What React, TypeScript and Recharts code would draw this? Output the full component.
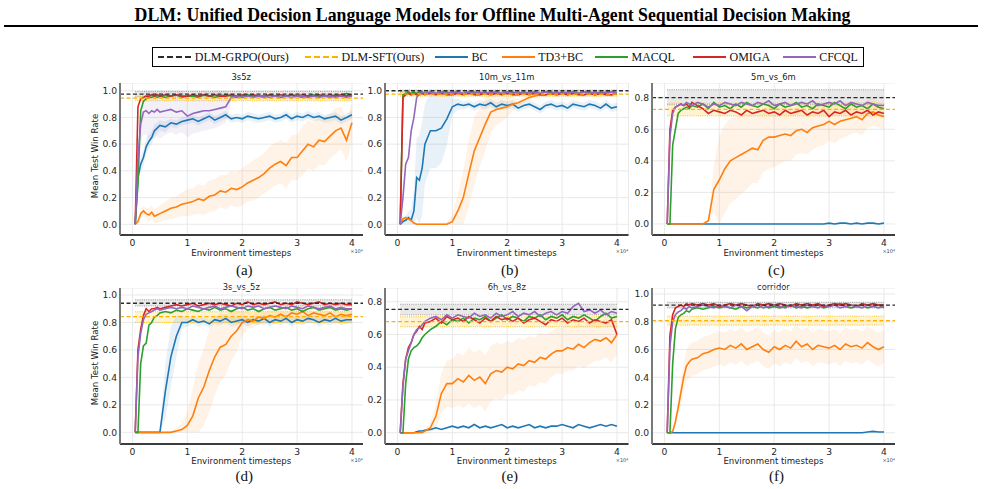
import React from "react";
import {
  Area,
  CartesianGrid,
  ComposedChart,
  Line,
  ReferenceArea,
  ReferenceLine,
  XAxis,
  YAxis
} from "recharts";

// shared x grid (×10^4 environment timesteps)
const steps = [
  0.05, 0.1, 0.15, 0.2, 0.25, 0.3, 0.35, 0.4, 0.45, 0.5,
  0.6, 0.7, 0.8, 0.9, 1.0, 1.1, 1.2, 1.3, 1.4, 1.5,
  1.6, 1.7, 1.8, 1.9, 2.0, 2.1, 2.2, 2.3, 2.4, 2.5,
  2.6, 2.7, 2.8, 2.9, 3.0, 3.1, 3.2, 3.3, 3.4, 3.5,
  3.6, 3.7, 3.8, 3.9, 4.0
];
const xTicks = [0, 1, 2, 3, 4];
const yTicksFull = [0, 0.2, 0.4, 0.6, 0.8, 1.0];
const yTicksShort = [0, 0.2, 0.4, 0.6, 0.8];

// ---- 3s5z ----
const bcA = [0, 0.35, 0.45, 0.5, 0.58, 0.62, 0.65, 0.7, 0.72, 0.74, 0.73, 0.76, 0.75, 0.77, 0.78, 0.79, 0.77, 0.79, 0.81, 0.78, 0.8, 0.82, 0.79, 0.8, 0.79, 0.81, 0.8, 0.79, 0.8, 0.81, 0.79, 0.8, 0.82, 0.79, 0.81, 0.8, 0.82, 0.8, 0.81, 0.79, 0.8, 0.81, 0.78, 0.8, 0.82];
const bcSpreadA = [0, 0.05, 0.06, 0.06, 0.06, 0.05, 0.05, 0.05, 0.04, 0.04, 0.04, 0.03, 0.03, 0.03, 0.03, 0.03, 0.03, 0.03, 0.03, 0.03, 0.03, 0.03, 0.03, 0.03, 0.03, 0.03, 0.03, 0.03, 0.03, 0.03, 0.03, 0.03, 0.03, 0.03, 0.03, 0.03, 0.03, 0.03, 0.03, 0.03, 0.03, 0.03, 0.03, 0.03, 0.03];
const td3A = [0, 0.02, 0.08, 0.1, 0.08, 0.07, 0.09, 0.06, 0.07, 0.08, 0.1, 0.12, 0.13, 0.15, 0.16, 0.17, 0.19, 0.18, 0.21, 0.22, 0.25, 0.24, 0.27, 0.26, 0.28, 0.31, 0.33, 0.35, 0.38, 0.42, 0.45, 0.47, 0.44, 0.5, 0.5, 0.55, 0.6, 0.58, 0.63, 0.62, 0.66, 0.7, 0.72, 0.63, 0.76];
const td3SpreadA = [0, 0.02, 0.03, 0.04, 0.04, 0.05, 0.05, 0.05, 0.06, 0.06, 0.07, 0.08, 0.08, 0.09, 0.1, 0.1, 0.11, 0.11, 0.12, 0.12, 0.12, 0.13, 0.13, 0.13, 0.14, 0.14, 0.15, 0.15, 0.15, 0.16, 0.16, 0.16, 0.17, 0.17, 0.17, 0.18, 0.18, 0.18, 0.18, 0.18, 0.17, 0.17, 0.16, 0.16, 0.15];
const macqlA = [0, 0.3, 0.85, 0.92, 0.94, 0.95, 0.95, 0.96, 0.95, 0.96, 0.95, 0.96, 0.97, 0.95, 0.96, 0.96, 0.95, 0.97, 0.96, 0.95, 0.96, 0.97, 0.96, 0.95, 0.96, 0.97, 0.96, 0.96, 0.95, 0.97, 0.96, 0.95, 0.96, 0.97, 0.96, 0.95, 0.96, 0.97, 0.96, 0.96, 0.95, 0.97, 0.96, 0.98, 0.96];
const omigaA = [0, 0.88, 0.94, 0.95, 0.96, 0.96, 0.97, 0.96, 0.97, 0.96, 0.97, 0.96, 0.97, 0.96, 0.96, 0.97, 0.96, 0.97, 0.96, 0.97, 0.96, 0.96, 0.97, 0.96, 0.97, 0.96, 0.97, 0.96, 0.96, 0.97, 0.96, 0.97, 0.96, 0.97, 0.96, 0.97, 0.96, 0.96, 0.97, 0.96, 0.97, 0.96, 0.97, 0.96, 0.97];
const cfcqlA = [0, 0.5, 0.75, 0.84, 0.85, 0.83, 0.85, 0.84, 0.86, 0.84, 0.85, 0.86, 0.84, 0.85, 0.81, 0.83, 0.84, 0.85, 0.85, 0.86, 0.87, 0.88, 0.95, 0.96, 0.95, 0.96, 0.95, 0.96, 0.96, 0.95, 0.96, 0.95, 0.96, 0.95, 0.96, 0.96, 0.95, 0.96, 0.95, 0.96, 0.96, 0.95, 0.96, 0.95, 0.96];
const cfcqlSpreadA = [0, 0.1, 0.15, 0.17, 0.18, 0.2, 0.2, 0.2, 0.2, 0.2, 0.18, 0.17, 0.17, 0.16, 0.16, 0.15, 0.15, 0.15, 0.14, 0.14, 0.13, 0.12, 0.03, 0.02, 0.02, 0.02, 0.02, 0.02, 0.02, 0.02, 0.02, 0.02, 0.02, 0.02, 0.02, 0.02, 0.02, 0.02, 0.02, 0.02, 0.02, 0.02, 0.02, 0.02, 0.02];

// ---- 10m_vs_11m ----
const bcB = [0, 0.02, 0.03, 0.05, 0.03, 0.1, 0.35, 0.33, 0.42, 0.6, 0.7, 0.7, 0.72, 0.79, 0.88, 0.9, 0.89, 0.9, 0.88, 0.9, 0.89, 0.91, 0.88, 0.9, 0.89, 0.9, 0.87, 0.89, 0.9, 0.88, 0.86, 0.89, 0.9, 0.88, 0.89, 0.87, 0.9, 0.89, 0.88, 0.9, 0.89, 0.87, 0.9, 0.87, 0.88];
const bcSpreadB = [0, 0.02, 0.03, 0.05, 0.08, 0.15, 0.3, 0.33, 0.35, 0.3, 0.28, 0.28, 0.26, 0.2, 0.06, 0.04, 0.03, 0.03, 0.03, 0.03, 0.03, 0.03, 0.03, 0.03, 0.03, 0.03, 0.03, 0.03, 0.03, 0.03, 0.03, 0.03, 0.03, 0.03, 0.03, 0.03, 0.03, 0.03, 0.03, 0.03, 0.03, 0.03, 0.03, 0.03, 0.03];
const td3B = [0, 0.04, 0.05, 0.04, 0.03, 0.01, 0, 0, 0, 0, 0, 0, 0, 0, 0.02, 0.1, 0.2, 0.38, 0.55, 0.65, 0.75, 0.84, 0.86, 0.87, 0.88, 0.9, 0.91, 0.93, 0.95, 0.96, 0.97, 0.97, 0.98, 0.97, 0.98, 0.97, 0.98, 0.98, 0.97, 0.98, 0.97, 0.98, 0.98, 0.97, 0.98];
const td3SpreadB = [0, 0.02, 0.02, 0.02, 0.02, 0.01, 0.01, 0.01, 0.01, 0.01, 0.01, 0.01, 0.01, 0.02, 0.05, 0.12, 0.2, 0.25, 0.25, 0.22, 0.2, 0.15, 0.12, 0.1, 0.08, 0.05, 0.03, 0.02, 0.02, 0.02, 0.02, 0.02, 0.02, 0.02, 0.02, 0.02, 0.02, 0.02, 0.02, 0.02, 0.02, 0.02, 0.02, 0.02, 0.02];
const macqlB = [0, 0.97, 0.98, 0.99, 0.98, 0.99, 0.98, 0.99, 0.99, 0.98, 0.99, 0.98, 0.99, 0.99, 0.98, 0.99, 0.98, 0.99, 0.99, 0.98, 0.99, 0.98, 0.99, 0.98, 0.99, 0.99, 0.98, 0.99, 0.98, 0.99, 0.98, 0.99, 0.99, 0.98, 0.99, 0.98, 0.99, 0.98, 0.99, 0.99, 0.98, 0.99, 0.98, 0.99, 0.98];
const omigaB = [0, 0.95, 0.97, 0.98, 0.97, 0.98, 0.97, 0.97, 0.98, 0.97, 0.98, 0.97, 0.98, 0.97, 0.97, 0.98, 0.97, 0.98, 0.97, 0.97, 0.98, 0.97, 0.98, 0.97, 0.98, 0.97, 0.97, 0.98, 0.97, 0.98, 0.97, 0.97, 0.98, 0.97, 0.98, 0.97, 0.98, 0.97, 0.97, 0.98, 0.97, 0.98, 0.97, 0.97, 0.98];
const cfcqlB = [0, 0.2, 0.45, 0.5, 0.7, 0.8, 0.95, 0.98, 0.99, 0.98, 0.99, 0.98, 0.99, 0.98, 0.99, 0.99, 0.98, 0.99, 0.98, 0.99, 0.98, 0.99, 0.99, 0.98, 0.99, 0.98, 0.99, 0.98, 0.99, 0.99, 0.98, 0.99, 0.98, 0.99, 0.98, 0.99, 0.99, 0.98, 0.99, 0.98, 0.99, 0.98, 0.99, 0.99, 0.98];

// ---- 5m_vs_6m ----
const bcC = [0, 0, 0, 0, 0, 0, 0, 0, 0, 0, 0, 0, 0, 0, 0, 0, 0, 0, 0, 0, 0, 0, 0, 0, 0, 0, 0, 0, 0, 0, 0, 0, 0, 0, 0.005, 0, 0.005, 0.005, 0, 0.005, 0, 0.005, 0.005, 0, 0.005];
const td3C = [0, 0, 0, 0, 0, 0, 0, 0, 0, 0, 0, 0, 0.02, 0.22, 0.28, 0.35, 0.4, 0.42, 0.44, 0.46, 0.48, 0.47, 0.53, 0.55, 0.55, 0.56, 0.57, 0.56, 0.59, 0.6, 0.58, 0.61, 0.62, 0.63, 0.65, 0.63, 0.65, 0.66, 0.67, 0.68, 0.66, 0.7, 0.71, 0.69, 0.68];
const td3SpreadC = [0, 0, 0, 0, 0, 0, 0, 0, 0, 0, 0, 0, 0.01, 0.15, 0.28, 0.28, 0.27, 0.26, 0.25, 0.24, 0.22, 0.21, 0.2, 0.2, 0.19, 0.18, 0.17, 0.16, 0.15, 0.15, 0.14, 0.14, 0.13, 0.13, 0.12, 0.12, 0.11, 0.11, 0.1, 0.1, 0.1, 0.09, 0.09, 0.08, 0.08];
const macqlC = [0, 0, 0.5, 0.6, 0.7, 0.72, 0.73, 0.74, 0.73, 0.75, 0.74, 0.76, 0.73, 0.77, 0.74, 0.75, 0.73, 0.76, 0.74, 0.77, 0.75, 0.74, 0.76, 0.75, 0.73, 0.76, 0.74, 0.75, 0.77, 0.74, 0.75, 0.73, 0.76, 0.75, 0.74, 0.77, 0.75, 0.73, 0.76, 0.74, 0.75, 0.73, 0.76, 0.74, 0.73];
const omigaC = [0, 0.6, 0.72, 0.74, 0.75, 0.76, 0.75, 0.76, 0.74, 0.77, 0.75, 0.73, 0.7, 0.72, 0.71, 0.7, 0.72, 0.71, 0.69, 0.72, 0.7, 0.71, 0.72, 0.7, 0.71, 0.69, 0.72, 0.7, 0.71, 0.72, 0.69, 0.71, 0.7, 0.72, 0.68, 0.71, 0.7, 0.72, 0.69, 0.71, 0.7, 0.72, 0.69, 0.71, 0.7];
const cfcqlC = [0, 0.55, 0.7, 0.74, 0.75, 0.76, 0.75, 0.77, 0.76, 0.75, 0.77, 0.76, 0.74, 0.76, 0.75, 0.77, 0.76, 0.75, 0.77, 0.76, 0.75, 0.77, 0.76, 0.78, 0.75, 0.76, 0.77, 0.75, 0.76, 0.77, 0.76, 0.78, 0.75, 0.76, 0.77, 0.76, 0.78, 0.75, 0.77, 0.76, 0.75, 0.77, 0.76, 0.75, 0.75];

// ---- 3s_vs_5z ----
const bcD = [0, 0, 0, 0, 0, 0, 0, 0, 0, 0, 0.3, 0.55, 0.7, 0.8, 0.8, 0.82, 0.8, 0.81, 0.79, 0.82, 0.81, 0.83, 0.8, 0.81, 0.82, 0.8, 0.82, 0.81, 0.83, 0.8, 0.82, 0.81, 0.83, 0.8, 0.82, 0.81, 0.83, 0.82, 0.8, 0.82, 0.81, 0.83, 0.81, 0.82, 0.82];
const bcSpreadD = [0, 0, 0, 0, 0, 0, 0, 0, 0, 0, 0.2, 0.22, 0.15, 0.05, 0.03, 0.03, 0.03, 0.03, 0.03, 0.03, 0.03, 0.03, 0.03, 0.03, 0.03, 0.03, 0.03, 0.03, 0.03, 0.03, 0.03, 0.03, 0.03, 0.03, 0.03, 0.03, 0.03, 0.03, 0.03, 0.03, 0.03, 0.03, 0.03, 0.03, 0.03];
const td3D = [0, 0, 0, 0, 0, 0, 0, 0, 0, 0, 0, 0, 0.01, 0.02, 0.05, 0.12, 0.25, 0.33, 0.45, 0.55, 0.62, 0.64, 0.7, 0.74, 0.8, 0.82, 0.81, 0.84, 0.83, 0.85, 0.84, 0.86, 0.84, 0.87, 0.86, 0.88, 0.85, 0.87, 0.86, 0.85, 0.87, 0.84, 0.86, 0.85, 0.86];
const td3SpreadD = [0, 0, 0, 0, 0, 0, 0, 0, 0, 0, 0.005, 0.01, 0.02, 0.05, 0.1, 0.2, 0.25, 0.28, 0.3, 0.28, 0.25, 0.22, 0.18, 0.15, 0.1, 0.06, 0.05, 0.05, 0.05, 0.05, 0.05, 0.05, 0.05, 0.05, 0.05, 0.05, 0.05, 0.05, 0.05, 0.05, 0.05, 0.05, 0.05, 0.05, 0.05];
const macqlD = [0, 0, 0.5, 0.63, 0.65, 0.78, 0.8, 0.84, 0.85, 0.87, 0.88, 0.87, 0.89, 0.88, 0.9, 0.89, 0.88, 0.9, 0.89, 0.91, 0.89, 0.9, 0.88, 0.9, 0.91, 0.89, 0.9, 0.88, 0.9, 0.91, 0.89, 0.9, 0.91, 0.89, 0.9, 0.88, 0.9, 0.91, 0.89, 0.9, 0.91, 0.89, 0.9, 0.89, 0.9];
const omigaD = [0, 0.6, 0.75, 0.85, 0.9, 0.88, 0.9, 0.9, 0.91, 0.9, 0.91, 0.92, 0.93, 0.92, 0.93, 0.94, 0.92, 0.93, 0.94, 0.93, 0.94, 0.93, 0.92, 0.94, 0.93, 0.95, 0.93, 0.94, 0.93, 0.94, 0.95, 0.93, 0.94, 0.93, 0.95, 0.94, 0.93, 0.94, 0.95, 0.93, 0.94, 0.93, 0.94, 0.93, 0.93];
const cfcqlD = [0, 0.55, 0.72, 0.82, 0.86, 0.87, 0.88, 0.89, 0.9, 0.89, 0.9, 0.91, 0.9, 0.91, 0.9, 0.92, 0.91, 0.9, 0.91, 0.92, 0.9, 0.91, 0.92, 0.91, 0.9, 0.92, 0.91, 0.92, 0.9, 0.91, 0.92, 0.91, 0.9, 0.92, 0.91, 0.9, 0.92, 0.91, 0.9, 0.91, 0.92, 0.9, 0.91, 0.9, 0.9];

// ---- 6h_vs_8z ----
const bcE = [0, 0, 0, 0, 0, 0, 0.005, 0.01, 0.01, 0.015, 0.02, 0.03, 0.02, 0.03, 0.04, 0.03, 0.04, 0.03, 0.05, 0.03, 0.04, 0.03, 0.04, 0.05, 0.03, 0.04, 0.03, 0.04, 0.05, 0.03, 0.04, 0.03, 0.04, 0.04, 0.05, 0.04, 0.03, 0.05, 0.04, 0.03, 0.04, 0.05, 0.04, 0.05, 0.04];
const td3E = [0, 0, 0, 0, 0, 0, 0, 0, 0, 0.01, 0.03, 0.1, 0.24, 0.3, 0.3, 0.33, 0.31, 0.35, 0.32, 0.34, 0.3, 0.36, 0.38, 0.37, 0.4, 0.39, 0.42, 0.41, 0.44, 0.43, 0.46, 0.45, 0.48, 0.5, 0.5, 0.52, 0.51, 0.54, 0.52, 0.55, 0.57, 0.56, 0.58, 0.55, 0.6];
const td3SpreadE = [0, 0, 0, 0, 0, 0, 0, 0, 0, 0.01, 0.03, 0.08, 0.12, 0.14, 0.15, 0.16, 0.16, 0.17, 0.17, 0.17, 0.17, 0.17, 0.17, 0.17, 0.16, 0.16, 0.16, 0.16, 0.15, 0.15, 0.15, 0.15, 0.14, 0.14, 0.14, 0.14, 0.13, 0.13, 0.13, 0.13, 0.13, 0.12, 0.12, 0.12, 0.12];
const macqlE = [0, 0, 0.3, 0.45, 0.5, 0.52, 0.53, 0.55, 0.58, 0.6, 0.63, 0.65, 0.68, 0.66, 0.69, 0.68, 0.7, 0.67, 0.7, 0.69, 0.71, 0.68, 0.7, 0.72, 0.69, 0.71, 0.7, 0.68, 0.71, 0.7, 0.72, 0.69, 0.71, 0.7, 0.72, 0.69, 0.71, 0.7, 0.72, 0.7, 0.68, 0.71, 0.73, 0.7, 0.71];
const omigaE = [0, 0.3, 0.45, 0.52, 0.55, 0.6, 0.62, 0.65, 0.63, 0.67, 0.68, 0.7, 0.67, 0.71, 0.69, 0.7, 0.68, 0.71, 0.69, 0.67, 0.7, 0.68, 0.71, 0.69, 0.7, 0.68, 0.7, 0.67, 0.69, 0.7, 0.68, 0.66, 0.69, 0.68, 0.7, 0.67, 0.69, 0.68, 0.7, 0.67, 0.69, 0.68, 0.67, 0.69, 0.6];
const cfcqlE = [0, 0.28, 0.45, 0.5, 0.55, 0.6, 0.63, 0.64, 0.66, 0.68, 0.7, 0.71, 0.69, 0.72, 0.7, 0.72, 0.71, 0.7, 0.73, 0.71, 0.72, 0.7, 0.73, 0.71, 0.72, 0.74, 0.71, 0.73, 0.72, 0.74, 0.71, 0.73, 0.74, 0.72, 0.74, 0.73, 0.77, 0.79, 0.74, 0.75, 0.73, 0.75, 0.72, 0.74, 0.73];

// ---- corridor ----
const bcF = [0, 0, 0, 0, 0, 0, 0, 0, 0, 0, 0, 0, 0, 0, 0, 0, 0, 0, 0, 0, 0, 0, 0, 0, 0, 0, 0, 0, 0, 0, 0, 0, 0, 0, 0, 0, 0, 0, 0, 0, 0, 0.005, 0.01, 0.005, 0.005];
const td3F = [0, 0, 0.01, 0.08, 0.18, 0.29, 0.4, 0.48, 0.51, 0.53, 0.54, 0.57, 0.58, 0.6, 0.61, 0.6, 0.63, 0.61, 0.64, 0.6, 0.62, 0.64, 0.6, 0.58, 0.62, 0.6, 0.63, 0.61, 0.66, 0.62, 0.64, 0.6, 0.63, 0.62, 0.61, 0.63, 0.6, 0.64, 0.62, 0.63, 0.61, 0.65, 0.62, 0.6, 0.62];
const td3SpreadF = [0, 0, 0.01, 0.04, 0.06, 0.08, 0.1, 0.11, 0.12, 0.12, 0.12, 0.12, 0.12, 0.12, 0.12, 0.12, 0.12, 0.12, 0.12, 0.12, 0.12, 0.12, 0.12, 0.12, 0.12, 0.12, 0.12, 0.12, 0.12, 0.12, 0.12, 0.12, 0.12, 0.12, 0.12, 0.12, 0.12, 0.12, 0.12, 0.12, 0.12, 0.12, 0.12, 0.12, 0.12];
const macqlF = [0, 0, 0.5, 0.75, 0.83, 0.85, 0.86, 0.88, 0.87, 0.89, 0.9, 0.89, 0.9, 0.91, 0.9, 0.91, 0.9, 0.89, 0.91, 0.9, 0.91, 0.9, 0.92, 0.9, 0.91, 0.9, 0.91, 0.92, 0.9, 0.91, 0.9, 0.91, 0.92, 0.9, 0.91, 0.92, 0.93, 0.91, 0.9, 0.91, 0.92, 0.9, 0.91, 0.92, 0.9];
const omigaF = [0, 0.7, 0.85, 0.9, 0.91, 0.92, 0.91, 0.93, 0.92, 0.93, 0.92, 0.93, 0.92, 0.93, 0.91, 0.92, 0.93, 0.92, 0.93, 0.92, 0.91, 0.93, 0.92, 0.93, 0.92, 0.93, 0.92, 0.91, 0.93, 0.92, 0.93, 0.92, 0.93, 0.91, 0.92, 0.93, 0.92, 0.93, 0.92, 0.91, 0.93, 0.92, 0.93, 0.92, 0.92];
const cfcqlF = [0, 0.62, 0.8, 0.85, 0.87, 0.88, 0.9, 0.89, 0.91, 0.9, 0.91, 0.92, 0.91, 0.9, 0.92, 0.91, 0.9, 0.92, 0.91, 0.88, 0.91, 0.92, 0.9, 0.91, 0.92, 0.91, 0.9, 0.92, 0.91, 0.9, 0.92, 0.91, 0.9, 0.92, 0.91, 0.92, 0.9, 0.91, 0.92, 0.91, 0.9, 0.92, 0.91, 0.9, 0.91];

// DLM reference levels per map: [mean, low, high]
const grpoLevels = [
  [0.975, 0.955, 0.995],
  [1.0, 0.99, 1.005],
  [0.8, 0.755, 0.85],
  [0.94, 0.92, 0.965],
  [0.753, 0.72, 0.785],
  [0.92, 0.9, 0.94]
];
const sftLevels = [
  [0.945, 0.925, 0.96],
  [0.975, 0.96, 0.99],
  [0.726, 0.685, 0.765],
  [0.842, 0.8, 0.878],
  [0.678, 0.647, 0.708],
  [0.808, 0.776, 0.84]
];

const C = {
  bc: "#1f77b4",
  td3: "#ff7f0e",
  macql: "#2ca02c",
  omiga: "#d62728",
  cfcql: "#9467bd",
  grpo: "#2b2b2b",
  sft: "#ffb000"
};

const tickFont = { fill: "#262626", fontSize: 9.2, fontFamily: "DejaVu Sans" };
const AXIS_W = 34;
const AXIS_H = 22;
const PLOT_W = 243.5;
const X_DOMAIN: [number, number] = [-0.227, 4.21];
const LW = 1.6;

type Panel = {
  title: string;
  tag: string;
  left: number;
  top: number;
  bottom: number;
  yDomain: [number, number];
  yTicks: number[];
  bc: number[];
  td3: number[];
  macql: number[];
  omiga: number[];
  cfcql: number[];
  td3Spread: number[];
  bcSpread?: number[];
  cfcqlSpread?: number[];
  idx: number;
  yLabel?: boolean;
};

const TOP = { top: 83, bottom: 235 };
const BOT = { top: 288, bottom: 444 };

const panels: Panel[] = [
  { title: "3s5z", tag: "(a)", left: 119.5, ...TOP, yDomain: [-0.08, 1.058], yTicks: yTicksFull, bc: bcA, td3: td3A, macql: macqlA, omiga: omigaA, cfcql: cfcqlA, td3Spread: td3SpreadA, bcSpread: bcSpreadA, cfcqlSpread: cfcqlSpreadA, idx: 0, yLabel: true },
  { title: "10m_vs_11m", tag: "(b)", left: 385, ...TOP, yDomain: [-0.08, 1.058], yTicks: yTicksFull, bc: bcB, td3: td3B, macql: macqlB, omiga: omigaB, cfcql: cfcqlB, td3Spread: td3SpreadB, bcSpread: bcSpreadB, idx: 1 },
  { title: "5m_vs_6m", tag: "(c)", left: 651.7, ...TOP, yDomain: [-0.07, 0.893], yTicks: yTicksShort, bc: bcC, td3: td3C, macql: macqlC, omiga: omigaC, cfcql: cfcqlC, td3Spread: td3SpreadC, idx: 2 },
  { title: "3s_vs_5z", tag: "(d)", left: 119.5, ...BOT, yDomain: [-0.085, 1.051], yTicks: yTicksFull, bc: bcD, td3: td3D, macql: macqlD, omiga: omigaD, cfcql: cfcqlD, td3Spread: td3SpreadD, bcSpread: bcSpreadD, idx: 3, yLabel: true },
  { title: "6h_vs_8z", tag: "(e)", left: 385, ...BOT, yDomain: [-0.069, 0.884], yTicks: yTicksShort, bc: bcE, td3: td3E, macql: macqlE, omiga: omigaE, cfcql: cfcqlE, td3Spread: td3SpreadE, idx: 4 },
  { title: "corridor", tag: "(f)", left: 651.7, ...BOT, yDomain: [-0.081, 1.043], yTicks: yTicksFull, bc: bcF, td3: td3F, macql: macqlF, omiga: omigaF, cfcql: cfcqlF, td3Spread: td3SpreadF, idx: 5 }
];

function band(v: number[], s: number[] | undefined, i: number) {
  if (!s) return null;
  return [Math.max(0, v[i] - s[i]), Math.min(1, v[i] + s[i])];
}

function Label({ x, y, children, style }: { x: number; y: number; children: React.ReactNode; style?: React.CSSProperties }) {
  return (
    <div
      style={{
        position: "absolute",
        left: x,
        top: y,
        transform: "translate(-50%, -50%)",
        whiteSpace: "nowrap",
        lineHeight: 1,
        ...style
      }}
    >
      {children}
    </div>
  );
}

function PanelChart({ p }: { p: Panel }) {
  const rows = steps.map((x, i) => ({
    x,
    bc: p.bc[i],
    td3: p.td3[i],
    macql: p.macql[i],
    omiga: p.omiga[i],
    cfcql: p.cfcql[i],
    td3Band: band(p.td3, p.td3Spread, i),
    bcBand: band(p.bc, p.bcSpread, i),
    cfcqlBand: band(p.cfcql, p.cfcqlSpread, i)
  }));
  const [g, gLo, gHi] = grpoLevels[p.idx];
  const [s, sLo, sHi] = sftLevels[p.idx];
  const cx = p.left + PLOT_W / 2;
  const tick4 = p.left + ((4 - X_DOMAIN[0]) / (X_DOMAIN[1] - X_DOMAIN[0])) * PLOT_W;
  const isTop = p.top < 200;
  const titleY = isTop ? 77 : 286.5;
  const xLabY = isTop ? 252.7 : 461;
  const tagY = isTop ? 270 : 476;

  return (
    <>
      <Label x={cx} y={titleY} style={{ fontFamily: "DejaVu Sans", fontSize: 8.4, color: "#222" }}>
        {p.title}
      </Label>
      <div style={{ position: "absolute", left: p.left - AXIS_W, top: p.top }}>
        <ComposedChart
          width={PLOT_W + AXIS_W}
          height={p.bottom - p.top + AXIS_H}
          data={rows}
          margin={{ top: 0, right: 0, bottom: 0, left: 0 }}
        >
          <CartesianGrid stroke="#e6e6e6" strokeWidth={0.9} />
          <XAxis
            dataKey="x"
            type="number"
            domain={X_DOMAIN}
            ticks={xTicks}
            allowDataOverflow
            height={AXIS_H}
            tickLine={false}
            tickSize={0}
            tickMargin={4}
            axisLine={{ stroke: "#000", strokeWidth: 1.3 }}
            tick={tickFont}
          />
          <YAxis
            type="number"
            domain={p.yDomain}
            ticks={p.yTicks}
            allowDataOverflow
            width={AXIS_W}
            tickLine={false}
            tickSize={0}
            tickMargin={3}
            axisLine={{ stroke: "#7a7a7a", strokeWidth: 2 }}
            tick={tickFont}
            tickFormatter={(v: number) => v.toFixed(1)}
          />
          <ReferenceArea x1={0.05} x2={4} y1={gLo} y2={gHi} fill="#cfcfcf" fillOpacity={0.45} stroke="none" />
          <ReferenceArea x1={0.05} x2={4} y1={sLo} y2={sHi} fill="#ffe08a" fillOpacity={0.4} stroke="none" />
          <Area dataKey="td3Band" stroke="none" fill={C.td3} fillOpacity={0.1} isAnimationActive={false} activeDot={false} />
          {p.bcSpread && (
            <Area dataKey="bcBand" stroke="none" fill={C.bc} fillOpacity={0.1} isAnimationActive={false} activeDot={false} />
          )}
          {p.cfcqlSpread && (
            <Area dataKey="cfcqlBand" stroke="none" fill={C.cfcql} fillOpacity={0.1} isAnimationActive={false} activeDot={false} />
          )}
          <ReferenceLine segment={[{ x: 0.05, y: gLo }, { x: 4, y: gLo }]} stroke="#9a9a9a" strokeWidth={1} strokeDasharray="1 1.2" />
          <ReferenceLine segment={[{ x: 0.05, y: gHi }, { x: 4, y: gHi }]} stroke="#9a9a9a" strokeWidth={1} strokeDasharray="1 1.2" />
          <ReferenceLine segment={[{ x: 0.05, y: sLo }, { x: 4, y: sLo }]} stroke="#ffc21a" strokeWidth={1} strokeDasharray="1 1.2" />
          <ReferenceLine segment={[{ x: 0.05, y: sHi }, { x: 4, y: sHi }]} stroke="#ffc21a" strokeWidth={1} strokeDasharray="1 1.2" />
          <Line dataKey="bc" stroke={C.bc} strokeWidth={LW} dot={false} isAnimationActive={false} />
          <Line dataKey="td3" stroke={C.td3} strokeWidth={LW} dot={false} isAnimationActive={false} />
          <Line dataKey="macql" stroke={C.macql} strokeWidth={LW} dot={false} isAnimationActive={false} />
          <Line dataKey="omiga" stroke={C.omiga} strokeWidth={LW} dot={false} isAnimationActive={false} />
          <Line dataKey="cfcql" stroke={C.cfcql} strokeWidth={LW} dot={false} isAnimationActive={false} />
          <ReferenceLine y={s} stroke={C.sft} strokeWidth={1.3} strokeDasharray="4 2.5" />
          <ReferenceLine y={g} stroke={C.grpo} strokeWidth={1.3} strokeDasharray="4 2.5" />
        </ComposedChart>
      </div>
      <Label x={tick4 + 5} y={isTop ? 250.5 : 459.5} style={{ fontFamily: "DejaVu Sans", fontSize: 5, color: "#444" }}>
        ×10⁴
      </Label>
      <Label x={cx} y={xLabY} style={{ fontFamily: "DejaVu Sans", fontSize: 8.6, color: "#222" }}>
        Environment timesteps
      </Label>
      <Label x={cx + 3} y={tagY} style={{ fontFamily: "Liberation Serif", fontSize: 15, color: "#111" }}>
        {p.tag}
      </Label>
      {p.yLabel && (
        <Label
          x={95}
          y={(p.top + p.bottom) / 2 - 3}
          style={{ fontFamily: "DejaVu Sans", fontSize: 8.6, color: "#222", transform: "translate(-50%, -50%) rotate(-90deg)" }}
        >
          Mean Test Win Rate
        </Label>
      )}
    </>
  );
}

const legendItems = [
  { name: "DLM-GRPO(Ours)", color: C.grpo, dashed: true, x: 158.3 },
  { name: "DLM-SFT(Ours)", color: C.sft, dashed: true, x: 305 },
  { name: "BC", color: C.bc, dashed: false, x: 435 },
  { name: "TD3+BC", color: C.td3, dashed: false, x: 501.7 },
  { name: "MACQL", color: C.macql, dashed: false, x: 595 },
  { name: "OMIGA", color: C.omiga, dashed: false, x: 693 },
  { name: "CFCQL", color: C.cfcql, dashed: false, x: 782.7 }
];

function LegendBox() {
  return (
    <>
      <div
        style={{
          position: "absolute",
          left: 151.7,
          top: 47,
          width: 712,
          height: 20,
          border: "1.5px solid #000",
          boxSizing: "border-box"
        }}
      />
      {legendItems.map((it) => (
        <div
          key={it.name}
          style={{
            position: "absolute",
            left: it.x,
            top: 50,
            height: 14,
            display: "flex",
            alignItems: "center",
            whiteSpace: "nowrap"
          }}
        >
          <svg width={33} height={6} style={{ marginRight: 3.5 }}>
            <line
              x1={0}
              x2={33}
              y1={3}
              y2={3}
              stroke={it.color}
              strokeWidth={2}
              strokeDasharray={it.dashed ? "6 3" : undefined}
            />
          </svg>
          <span style={{ fontFamily: "Liberation Serif", fontSize: 12, color: "#111" }}>{it.name}</span>
        </div>
      ))}
    </>
  );
}

export default function App() {
  return (
    <div
      style={{
        position: "absolute",
        left: 0,
        top: 0,
        width: 985,
        height: 489,
        background: "#fff",
        overflow: "hidden"
      }}
    >
      <div
        style={{
          position: "absolute",
          left: 0,
          top: 5,
          width: 985,
          textAlign: "center",
          fontFamily: "Liberation Serif",
          fontWeight: "bold",
          fontSize: 17.8,
          lineHeight: "20px",
          color: "#000"
        }}
      >
        DLM: Unified Decision Language Models for Offline Multi-Agent Sequential Decision Making
      </div>
      <div style={{ position: "absolute", left: 4, top: 25, width: 974, height: 1.6, background: "#000" }} />
      <LegendBox />
      {panels.map((p) => (
        <PanelChart key={p.title} p={p} />
      ))}
    </div>
  );
}
